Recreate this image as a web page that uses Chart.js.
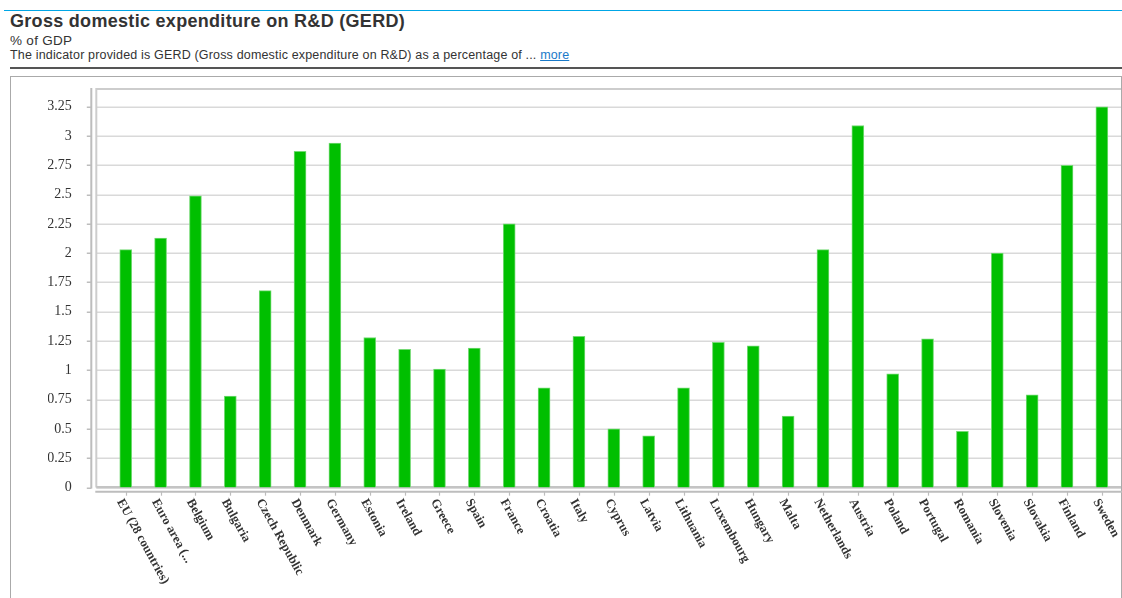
<!DOCTYPE html>
<html><head><meta charset="utf-8">
<script src="https://cdn.jsdelivr.net/npm/chart.js@4.4.1/dist/chart.umd.min.js"></script>
<style>
html,body{margin:0;padding:0;background:#fff;width:1122px;height:598px;overflow:hidden;font-family:"Liberation Sans",Arial,sans-serif;color:#333}
#blue{position:absolute;left:4px;top:10px;width:1118px;height:1px;background:#00a6e6}
#title{position:absolute;left:10px;top:12.1px;font-size:18px;line-height:18px;letter-spacing:0.3px;font-weight:bold;white-space:nowrap;color:#333}
#sub{position:absolute;left:10px;top:33.6px;font-size:13.5px;line-height:13.5px;letter-spacing:0.3px;white-space:nowrap;color:#333}
#desc{position:absolute;left:10px;top:49.4px;font-size:12.5px;line-height:12.5px;letter-spacing:0.17px;white-space:nowrap;color:#333}
#desc a{color:#1a7ac9;text-decoration:underline}
#rule{position:absolute;left:10px;top:66.5px;width:1112px;height:2px;background:#555}
#box{position:absolute;left:10px;top:76px;width:1110px;height:600px;border:1px solid #aaa;border-bottom:none}
#c{position:absolute;left:0;top:0}
</style>
</head><body>
<div id="blue"></div>
<div id="title">Gross domestic expenditure on R&amp;D (GERD)</div>
<div id="sub">% of GDP</div>
<div id="desc">The indicator provided is GERD (Gross domestic expenditure on R&amp;D) as a percentage of ... <a href="#">more</a></div>
<div id="rule"></div>
<div id="box"></div>
<canvas id="c" width="1122" height="598"></canvas>
<script>
const categories = ["EU (28 countries)","Euro area (...","Belgium","Bulgaria","Czech Republic","Denmark","Germany","Estonia","Ireland","Greece","Spain","France","Croatia","Italy","Cyprus","Latvia","Lithuania","Luxembourg","Hungary","Malta","Netherlands","Austria","Poland","Portugal","Romania","Slovenia","Slovakia","Finland","Sweden"];
const gerdValues = [2.03,2.13,2.49,0.78,1.68,2.87,2.94,1.28,1.18,1.01,1.19,2.25,0.85,1.29,0.50,0.44,0.85,1.24,1.21,0.61,2.03,3.09,0.97,1.27,0.48,2.00,0.79,2.75,3.25];
const yStep = 0.25;
const yMax = 3.41;

const framePlugin = {
  id: 'frame',
  beforeDatasetsDraw(chart) {
    const {ctx, chartArea: a, scales: {x, y}} = chart;
    const plotLeft = a.left - 12, plotRight = chart.width - 1;
    const axisX = a.left - 17, axisY = a.bottom + 4.2;
    ctx.save();
    ctx.strokeStyle = '#d9d9d9'; ctx.lineWidth = 1.5;
    y.ticks.forEach(t => {
      const py = Math.round(y.getPixelForValue(t.value)) + 0.25;
      ctx.beginPath(); ctx.moveTo(plotLeft, py); ctx.lineTo(plotRight, py); ctx.stroke();
    });
    ctx.strokeStyle = '#cdcdcd'; ctx.lineWidth = 2;
    ctx.beginPath(); ctx.moveTo(plotLeft, a.top + 1); ctx.lineTo(plotRight, a.top + 1); ctx.stroke();
    ctx.beginPath(); ctx.moveTo(plotLeft, a.top); ctx.lineTo(plotLeft, a.bottom); ctx.stroke();
    ctx.strokeStyle = '#c4c4c4';
    ctx.beginPath(); ctx.moveTo(plotLeft, a.bottom - 0.5); ctx.lineTo(plotRight, a.bottom - 0.5); ctx.stroke();
    ctx.strokeStyle = '#bdbdbd'; ctx.lineWidth = 2;
    ctx.beginPath(); ctx.moveTo(axisX, a.top); ctx.lineTo(axisX, a.bottom + 1); ctx.stroke();
    ctx.lineWidth = 1.5;
    y.ticks.forEach(t => {
      const py = Math.round(y.getPixelForValue(t.value)) + 0.25;
      ctx.beginPath(); ctx.moveTo(axisX - 4.5, py); ctx.lineTo(axisX, py); ctx.stroke();
    });
    ctx.lineWidth = 2;
    ctx.beginPath(); ctx.moveTo(plotLeft - 1, axisY); ctx.lineTo(chart.width, axisY); ctx.stroke();
    ctx.lineWidth = 1.2;
    categories.forEach((c, i) => {
      const px = Math.round(x.getPixelForTick(i)) + 0.5;
      ctx.beginPath(); ctx.moveTo(px, axisY); ctx.lineTo(px, axisY + 4); ctx.stroke();
    });
    ctx.restore();
  },
  afterDraw(chart) {
    const {ctx, chartArea: a, scales: {x}} = chart;
    ctx.save();
    ctx.font = 'bold 12.7px "Liberation Serif", "Times New Roman", serif';
    ctx.fillStyle = '#333';
    ctx.textAlign = 'left';
    ctx.textBaseline = 'middle';
    categories.forEach((c, i) => {
      const px = x.getPixelForTick(i);
      ctx.save();
      ctx.translate(px - 6, a.bottom + 12.5);
      ctx.rotate(61 * Math.PI / 180);
      ctx.fillText(c, 0, 0);
      ctx.restore();
    });
    ctx.restore();
  }
};

new Chart(document.getElementById('c'), {
  type: 'bar',
  data: {
    labels: categories,
    datasets: [{
      data: gerdValues,
      backgroundColor: '#00bf00',
      borderColor: '#74da74',
      borderWidth: 1,
      barThickness: 12
    }]
  },
  options: {
    responsive: false,
    animation: false,
    events: [],
    layout: {padding: {left: 48, right: 2.7, top: 88, bottom: 0}},
    plugins: {legend: {display: false}, tooltip: {enabled: false}},
    scales: {
      x: {
        grid: {display: false},
        border: {display: false},
        ticks: {display: false},
        afterFit(s) { s.height = 110.5; }
      },
      y: {
        min: 0,
        max: yMax,
        grid: {display: false},
        border: {display: false},
        ticks: {
          stepSize: yStep,
          padding: 28.5,
          color: '#333',
          font: {family: '"Liberation Serif", "Times New Roman", serif', size: 14},
          callback: v => String(+Number(v).toFixed(2))
        },
        afterBuildTicks(s) {
          s.ticks = s.ticks.filter(t => Math.abs(t.value / yStep - Math.round(t.value / yStep)) < 1e-6);
        },
        afterFit(s) { s.width = 60.3; }
      }
    }
  },
  plugins: [framePlugin]
});
</script>
</body></html>
